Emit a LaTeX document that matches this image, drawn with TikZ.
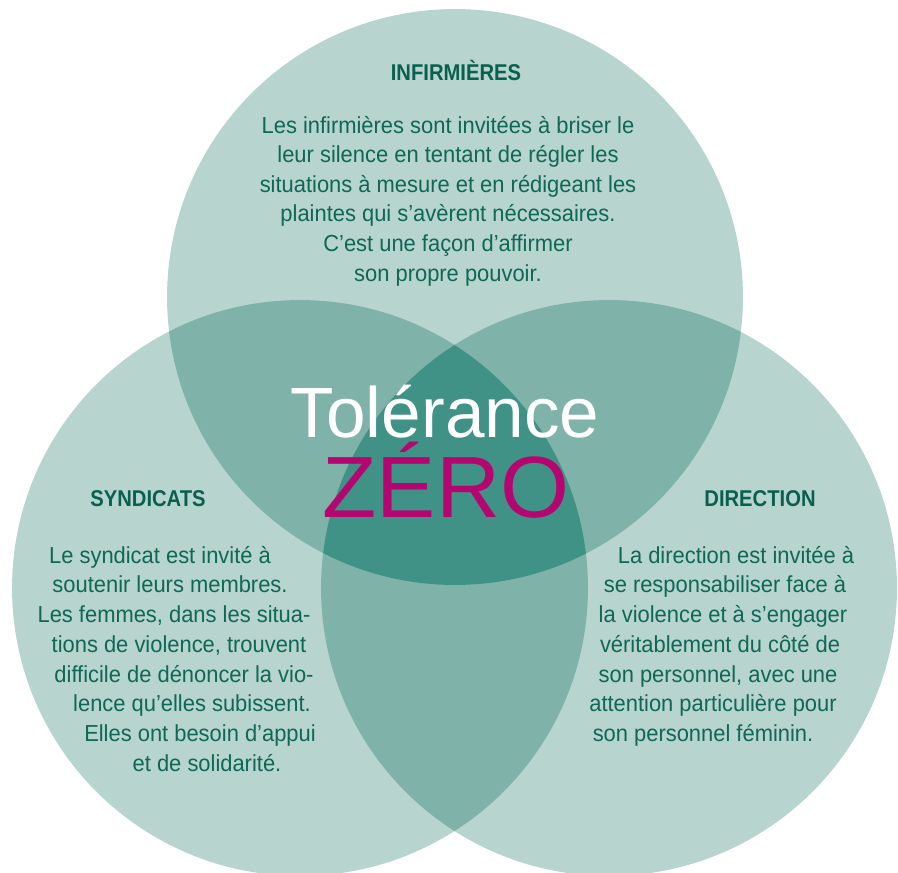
\documentclass[tikz,border=0pt]{standalone}
\usepackage{fontspec}
\setmainfont{Liberation Sans}[FakeStretch=0.945]
\newfontfamily\headfont{Liberation Sans}[FakeStretch=0.885]
\newfontfamily\titlefont{Liberation Sans}
\newfontfamily\zerofont{Liberation Sans}[FakeStretch=1.02]
\definecolor{vlight}{RGB}{183,212,207}
\definecolor{vmid}{RGB}{127,178,169}
\definecolor{vdark}{RGB}{65,146,134}
\definecolor{txtgreen}{RGB}{14,104,84}
\definecolor{headgreen}{RGB}{10,96,78}
\definecolor{zeromag}{RGB}{181,5,112}
\tikzset{
  body/.style={font=\fontsize{13.2}{16.8}\selectfont,text=txtgreen,anchor=base,inner sep=0pt},
  head/.style={font=\headfont\bfseries\fontsize{13}{15}\selectfont,text=headgreen,anchor=base,inner sep=0pt}
}
\def\rad{5.76cm}
\begin{document}
\begin{tikzpicture}[x=0.02cm,y=-0.02cm]
\useasboundingbox (0,0) rectangle (898,872);
\coordinate (ct) at (455,297); \coordinate (cl) at (300,588); \coordinate (cr) at (609,588);
% the three circles and their overlaps
\fill[vlight] (ct) circle[radius=\rad] (cl) circle[radius=\rad] (cr) circle[radius=\rad];
\begin{scope} \clip (ct) circle[radius=\rad]; \fill[vmid] (cl) circle[radius=\rad] (cr) circle[radius=\rad]; \end{scope}
\begin{scope} \clip (cl) circle[radius=\rad]; \fill[vmid] (cr) circle[radius=\rad]; \end{scope}
\begin{scope} \clip (ct) circle[radius=\rad]; \clip (cl) circle[radius=\rad]; \fill[vdark] (cr) circle[radius=\rad]; \end{scope}
% title
\node[font=\titlefont\fontsize{40.5}{40.5}\selectfont,text=white,anchor=base,inner sep=0pt] (tol) at (445,437) {Tolérance};
\node[font=\zerofont\fontsize{49.5}{49.5}\selectfont,text=zeromag,anchor=base,inner sep=0pt] (zero) at (446,517) {ZÉRO};
% headings
\node[head] (inf) at (456,80) {INFIRMIÈRES};
\node[head] (syn) at (148,506) {SYNDICATS};
\node[head] (dir) at (760,506) {DIRECTION};
% texts
\foreach \i/\t in {1/{Les infirmières sont invitées à briser le},2/{leur silence en tentant de régler les},
  3/{situations à mesure et en rédigeant les},4/{plaintes qui s’avèrent nécessaires.},
  5/{C’est une façon d’affirmer},6/{son propre pouvoir.}}
  \node[body] (i\i) at (448,{103.5+29.6*\i}) {\t};
\foreach \i/\x/\t in {1/160/{Le syndicat est invité à},2/170/{soutenir leurs membres.},
  3/174/{Les femmes, dans les situa-},4/179/{tions de violence, trouvent},
  5/184/{difficile de dénoncer la vio-},6/192/{lence qu’elles subissent.},
  7/200/{Elles ont besoin d’appui},8/207/{et de solidarité.}}
  \node[body] (s\i) at (\x,{533.5+29.7*\i}) {\t};
\foreach \i/\x/\t in {1/736/{La direction est invitée à},2/725/{se responsabiliser face à},
  3/723/{la violence et à s’engager},4/720/{véritablement du côté de},
  5/718/{son personnel, avec une},6/713/{attention particulière pour},
  7/703/{son personnel féminin.}}
  \node[body] (d\i) at (\x,{533.5+29.7*\i}) {\t};
\end{tikzpicture}
\end{document}
